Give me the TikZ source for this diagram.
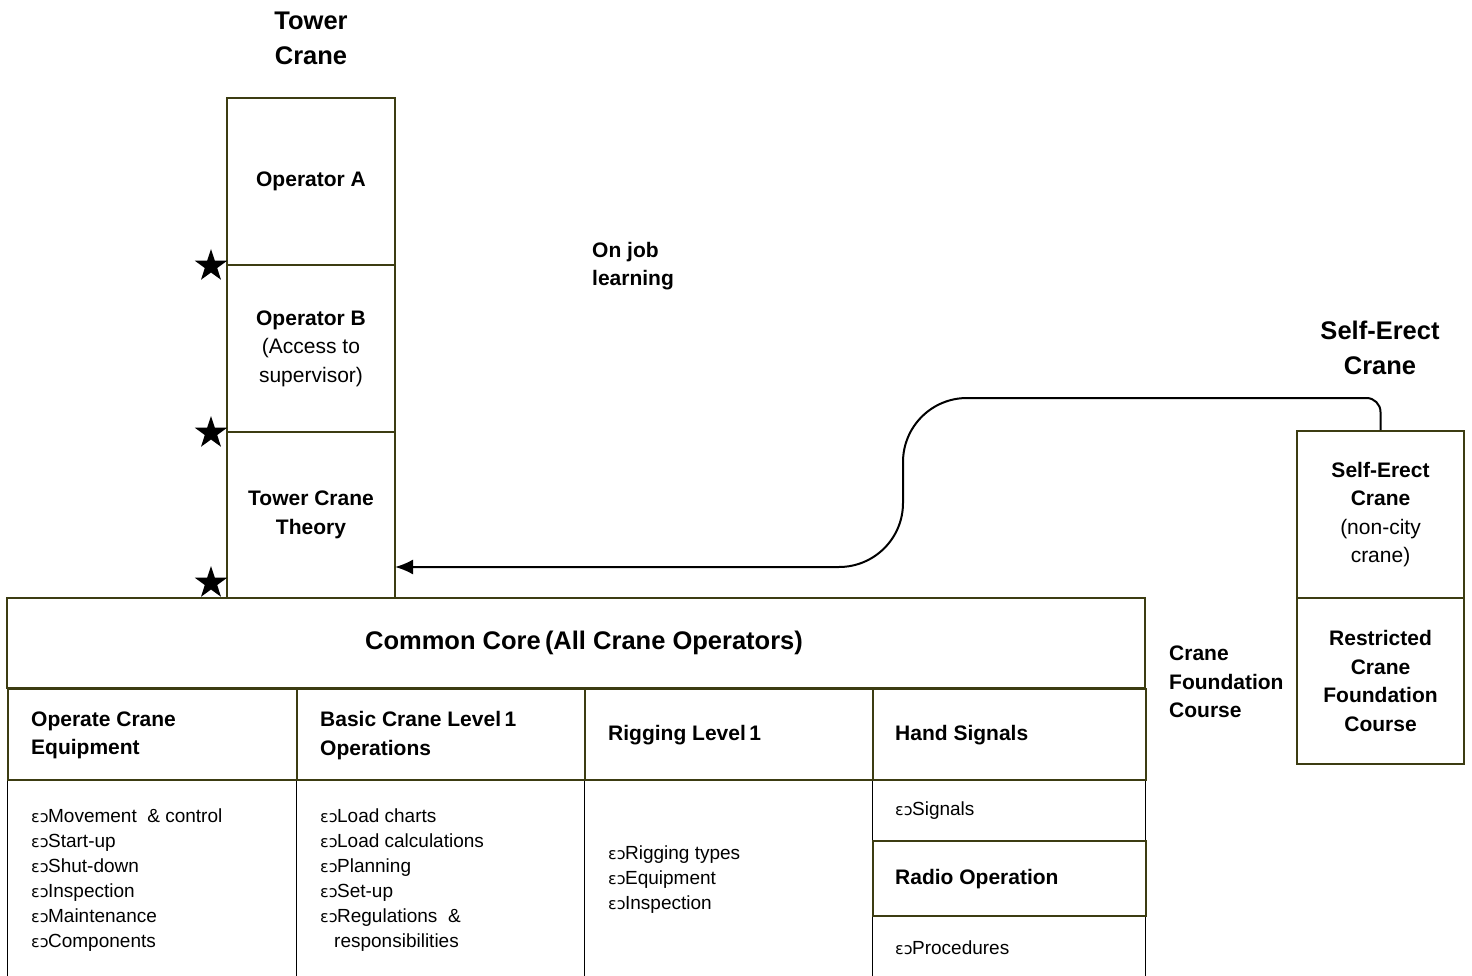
\documentclass[tikz,border=0pt]{standalone}
\usepackage{fontspec}
\setmainfont{Liberation Sans}
\newfontfamily\dejavu{DejaVu Sans}
\usetikzlibrary{shapes.geometric,arrows.meta}
\definecolor{boxline}{HTML}{3C3C12}
\newcommand\fT{\fontsize{25.5}{35}\selectfont\bfseries}
\newcommand\fB{\fontsize{21}{28.5}\selectfont\bfseries}
\newcommand\fR{\fontsize{21}{28.5}\selectfont}
\newcommand\fL{\fontsize{19}{25}\selectfont}
\newcommand\bul{{\dejavu\fontsize{16}{16}\selectfont ɛɔ}\kern-0.5pt}
\tikzset{
  obox/.style={draw=boxline, line width=2pt, inner sep=0pt, align=center},
  kbox/.style={draw=black, line width=1.4pt, inner sep=0pt},
  lcell/.style={align=left, inner xsep=24pt, inner ysep=0pt},
  plain/.style={inner sep=0pt, align=center},
  starmark/.style={star, star points=5, star point ratio=2.6, fill=black, draw=none, minimum size=34pt, inner sep=0pt},
  arr/.style={draw=black, line width=2pt, -{Latex[length=18pt,width=15pt]}}
}
\begin{document}
\begin{tikzpicture}[x=1pt,y=-1pt]
\useasboundingbox (0,0) rectangle (1472,976);
% titles
\node[plain, font=\fT] (ttitle) at (311,38) {Tower\\Crane};
\node[plain, font=\fT] (stitle) at (1380,348) {Self-Erect\\Crane};
% tower crane column
\node[obox, minimum width=168pt, minimum height=167pt, font=\fB] (opA) at (311,181.5) {\rule{0pt}{0pt}\raisebox{-2pt}{Operator A}};
\node[obox, minimum width=168pt, minimum height=167pt, font=\fR] (opB) at (311,348.5) {\textbf{Operator B}\\(Access to\\supervisor)};
\node[obox, minimum width=168pt, minimum height=166pt, font=\fB] (tct) at (311,515) {Tower Crane\\Theory};
% on job learning
\node[plain, anchor=west, align=left, font=\fB] (ojl) at (592,266) {On job\\learning};
% bottom row (black cells)
\node[kbox, anchor=north west, minimum width=289pt, minimum height=200pt] (c1) at (7,779) {};
\node[kbox, anchor=north west, minimum width=288pt, minimum height=200pt] (c2) at (296,779) {};
\node[kbox, anchor=north west, minimum width=288pt, minimum height=200pt] (c3) at (584,779) {};
\node[kbox, anchor=north west, minimum width=273pt, minimum height=61pt] (c4a) at (872,779) {};
\node[kbox, anchor=north west, minimum width=273pt, minimum height=65pt] (c4c) at (872,915) {};
\node[lcell, anchor=west, font=\fL] (l1) at (7,880) {\bul Movement \ \& control\\\bul Start-up\\\bul Shut-down\\\bul Inspection\\\bul Maintenance\\\bul Components};
\node[lcell, anchor=west, font=\fL] (l2) at (296,880) {\bul Load charts\\\bul Load calculations\\\bul Planning\\\bul Set-up\\\bul Regulations \ \&\\\hspace*{14pt}responsibilities};
\node[lcell, anchor=west, font=\fL] (l3) at (584,880) {\bul Rigging types\\\bul Equipment\\\bul Inspection};
\node[lcell, anchor=west, font=\fL, inner xsep=23pt] (l4a) at (872,811) {\bul Signals};
\node[lcell, anchor=west, font=\fL, inner xsep=23pt] (l4c) at (872,948) {\bul Procedures};
% common core header and row 2 (olive)
\node[obox, minimum width=1138pt, minimum height=90pt, font=\fT] (core) at (576,643) {\hspace*{16pt}Common Core\,(All Crane Operators)};
\node[obox, anchor=north west, minimum width=289pt, minimum height=91pt] (h1) at (7,688) {};
\node[obox, anchor=north west, minimum width=288pt, minimum height=91pt] (h2) at (296,688) {};
\node[obox, anchor=north west, minimum width=288pt, minimum height=91pt] (h3) at (584,688) {};
\node[obox, anchor=north west, minimum width=273pt, minimum height=91pt] (h4) at (872,688) {};
\node[obox, anchor=north west, minimum width=273pt, minimum height=75pt] (h5) at (872,840) {};
\node[lcell, anchor=west, font=\fB] (t1) at ([yshift=-1pt]h1.west) {Operate Crane\\Equipment};
\node[lcell, anchor=west, font=\fB] (t2) at ([yshift=-1pt]h2.west) {Basic Crane Level\,1\\Operations};
\node[lcell, anchor=west, font=\fB] (t3) at ([yshift=-1pt]h3.west) {Rigging Level\,1};
\node[lcell, anchor=west, font=\fB, inner xsep=23pt] (t4) at ([yshift=-1pt]h4.west) {Hand Signals};
\node[lcell, anchor=west, font=\fB, inner xsep=23pt] (t5) at ([yshift=-1pt]h5.west) {Radio Operation};
% stars
\node[starmark] (s1) at (211,266) {};
\node[starmark] (s2) at (211,433) {};
\node[starmark] (s3) at (211,583) {};
% self-erect column
\node[obox, minimum width=167pt, minimum height=167pt, font=\fR] (se1) at (1380.5,514.5) {\textbf{Self-Erect}\\\textbf{Crane}\\(non-city\\crane)};
\node[obox, minimum width=167pt, minimum height=166pt, font=\fB] (se2) at (1380.5,681) {Restricted\\Crane\\Foundation\\Course};
\node[plain, anchor=west, align=left, font=\fB] (cfc) at (1169,682) {Crane\\Foundation\\Course};
% connector
\coordinate (tip) at (395,567);
\draw[arr] (se1.north) [rounded corners=14pt] -- (1380.5,398) [rounded corners=64pt] -- (903,398) -- (903,567) -- (tip);
\end{tikzpicture}
\end{document}
